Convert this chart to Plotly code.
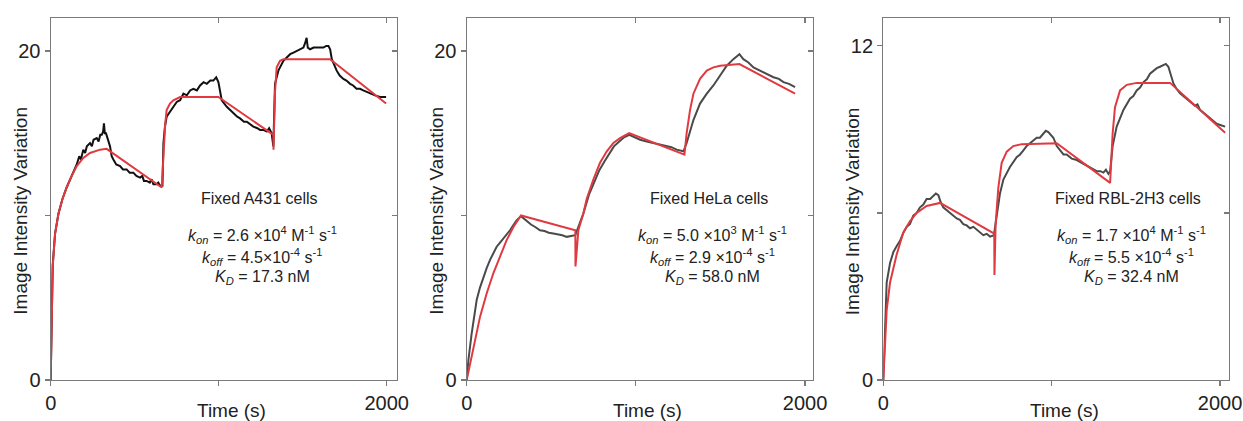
import plotly.graph_objects as go

# ---------------- data ----------------
# Panel 1: Fixed A431 cells
a431_t = [0, 6, 12, 26, 46, 70, 95, 125, 155, 170, 180, 194, 205, 215, 234, 245, 255, 274, 285, 295, 304, 312, 317, 322, 329,
          353, 363, 373, 390, 413, 430, 452, 470, 492, 510, 532, 545, 555, 571, 590, 600, 611, 630, 640, 651, 665,
          671, 680, 690, 710, 730, 750, 770, 790, 810, 830, 849, 870, 889, 910, 929, 950, 968, 985, 998,
          1008, 1018, 1048, 1070, 1087, 1110, 1127, 1150, 1167, 1190, 1206, 1230, 1246, 1265, 1286, 1300, 1315, 1325,
          1335, 1355, 1370, 1385, 1405, 1425, 1445, 1464, 1485, 1504, 1515, 1523, 1530, 1544, 1565, 1583, 1605, 1623, 1640, 1653,
          1663, 1673, 1702, 1720, 1742, 1760, 1782, 1800, 1820, 1841, 1860, 1880, 1901, 1930, 1960, 1996]
a431_v = [0, 4.5, 7.0, 8.9, 10.1, 11.0, 11.7, 12.4, 13.1, 13.6, 13.4, 14.0, 13.8, 14.2, 14.4, 14.2, 14.6, 14.7, 14.5, 14.9, 14.9, 15.1, 15.6, 15.0, 15.0,
          14.2, 13.6, 13.4, 13.1, 13.0, 12.8, 12.8, 12.6, 12.6, 12.4, 12.3, 12.4, 12.1, 12.1, 12.0, 12.2, 11.9, 11.9, 12.0, 11.8, 11.8,
          14.4, 15.4, 16.0, 16.3, 16.6, 16.9, 17.0, 17.4, 17.3, 17.6, 17.7, 17.6, 17.9, 18.1, 18.0, 18.2, 18.2, 18.4, 18.1,
          17.6, 17.0, 16.6, 16.4, 16.2, 16.0, 15.9, 15.7, 15.7, 15.5, 15.4, 15.3, 15.2, 15.2, 15.1, 15.3, 15.0, 14.2,
          18.0, 18.8, 19.1, 19.4, 19.6, 19.8, 19.9, 20.0, 20.1, 20.2, 20.5, 20.8, 20.2, 20.1, 20.2, 20.2, 20.2, 20.2, 20.3, 20.3,
          20.1, 19.5, 18.8, 18.5, 18.3, 18.2, 18.0, 17.9, 17.7, 17.7, 17.6, 17.5, 17.4, 17.3, 17.2, 17.2]
a431_fit_t = [0, 6, 12, 26, 46, 70, 95, 125, 155, 194, 234, 294, 333, 661,
              666, 671, 681, 690, 710, 730, 770, 998, 1325, 1326, 1335, 1345, 1365, 1385, 1663, 1996]
a431_fit_v = [0, 4.0, 6.9, 8.9, 10.1, 11.0, 11.7, 12.4, 13.0, 13.5, 13.8, 14.0, 14.05, 11.7,
              12.8, 14.0, 15.5, 16.4, 16.8, 17.0, 17.2, 17.2, 14.9, 14.0, 17.5, 19.0, 19.4, 19.5, 19.5, 16.8]

# Panel 2: Fixed HeLa cells
hela_t = [0, 10, 29, 45, 59, 78, 98, 118, 138, 157, 177, 197, 217, 236, 256, 275, 295, 321,
          340, 355, 380, 405, 433, 460, 485, 512, 540, 565, 591, 612, 630, 642,
          660, 689, 724, 755, 784, 815, 843, 870, 902, 930, 961,
          985, 1025, 1064, 1103, 1142, 1182, 1210, 1241, 1265, 1281,
          1300, 1320, 1340, 1379, 1419, 1458, 1498, 1537, 1576, 1612,
          1635, 1665, 1695, 1725, 1754, 1785, 1813, 1845, 1872, 1905, 1941]
hela_v = [0, 1.2, 2.8, 4.0, 4.86, 5.6, 6.27, 6.8, 7.3, 7.7, 8.1, 8.35, 8.6, 8.85, 9.1, 9.4, 9.7, 9.96,
          9.8, 9.7, 9.45, 9.3, 9.1, 9.05, 8.95, 8.9, 8.85, 8.8, 8.7, 8.75, 8.75, 8.8,
          9.3, 10.1, 11.3, 12.1, 12.75, 13.3, 13.8, 14.2, 14.5, 14.75, 14.9,
          14.8, 14.6, 14.5, 14.4, 14.3, 14.2, 14.15, 14.0, 13.95, 13.9,
          14.4, 15.1, 15.8, 16.8, 17.4, 17.9, 18.5, 19.1, 19.5, 19.8,
          19.5, 19.3, 19.0, 18.85, 18.7, 18.5, 18.4, 18.3, 18.1, 18.0, 17.8]
hela_fit_t = [0, 39, 79, 118, 158, 197, 236, 276, 321, 642,
              643, 660, 689, 709, 749, 788, 828, 867, 906, 960, 1287,
              1300, 1320, 1340, 1379, 1419, 1458, 1498, 1612, 1941]
hela_fit_v = [0, 2.0, 3.85, 5.26, 6.5, 7.5, 8.5, 9.3, 10.0, 9.1,
              6.9, 9.1, 10.1, 11.0, 12.2, 13.2, 13.9, 14.4, 14.7, 15.0, 13.7,
              15.0, 16.4, 17.4, 18.3, 18.8, 19.0, 19.1, 19.2, 17.4]

# Panel 3: Fixed RBL-2H3 cells
rbl_t = [0, 10, 20, 40, 60, 79, 99, 120, 139, 158, 178, 198, 218, 238, 257, 278, 297, 312, 327,
         340, 356, 376, 396, 416, 436, 455, 475, 495, 515, 535, 554, 574, 594, 614, 634, 657,
         673, 693, 713, 752, 792, 812, 832, 851, 871, 891, 911, 930, 950, 965, 980,
         1010, 1030, 1050, 1070, 1089, 1119, 1149, 1178, 1208, 1238, 1267, 1290, 1307, 1322, 1337, 1347,
         1362, 1386, 1426, 1465, 1485, 1505, 1525, 1545, 1565, 1584, 1605, 1624, 1643, 1663, 1678, 1693,
         1723, 1742, 1762, 1792, 1822, 1851, 1866, 1881, 1911, 1941, 1960, 1980, 2005, 2030]
rbl_v = [0, 2.0, 3.5, 4.2, 4.6, 4.8, 5.0, 5.3, 5.5, 5.6, 5.9, 6.0, 6.2, 6.3, 6.5, 6.5, 6.6, 6.7, 6.64,
         6.4, 6.2, 6.1, 6.0, 5.9, 5.8, 5.75, 5.6, 5.55, 5.45, 5.5, 5.4, 5.3, 5.2, 5.25, 5.15, 5.2,
         5.9, 6.7, 7.2, 7.65, 8.0, 8.1, 8.25, 8.4, 8.5, 8.6, 8.7, 8.7, 8.85, 8.95, 8.9,
         8.7, 8.4, 8.25, 8.1, 8.1, 7.95, 7.9, 7.8, 7.7, 7.6, 7.5, 7.5, 7.45, 7.55, 7.4, 7.5,
         8.4, 9.1, 9.7, 10.1, 10.2, 10.4, 10.5, 10.7, 10.8, 11.0, 11.1, 11.2, 11.25, 11.3, 11.35, 11.25,
         10.65, 10.45, 10.3, 10.15, 10.0, 9.85, 9.9, 9.7, 9.55, 9.4, 9.3, 9.2, 9.15, 9.1]
rbl_fit_t = [0, 10, 20, 40, 79, 119, 158, 198, 257, 337, 659,
             660, 667, 683, 703, 733, 772, 822, 1030, 1347,
             1362, 1376, 1406, 1446, 1505, 1703, 2030]
rbl_fit_v = [0, 1.6, 2.5, 3.5, 4.5, 5.3, 5.7, 6.0, 6.25, 6.36, 5.26,
             3.77, 5.6, 6.9, 7.8, 8.2, 8.4, 8.47, 8.5, 7.08,
             8.85, 9.8, 10.4, 10.6, 10.67, 10.67, 8.88]

panel_labels = ["Fixed A431 cells", "Fixed HeLa cells", "Fixed RBL-2H3 cells"]
kon_text = ["2.6 ×10<sup>4</sup>", "5.0 ×10<sup>3</sup>", "1.7 ×10<sup>4</sup>"]
koff_text = ["4.5×10<sup>-4</sup>", "2.9 ×10<sup>-4</sup>", "5.5 ×10<sup>-4</sup>"]
kd_text = ["17.3", "58.0", "32.4"]

x_ticks = [0, 1000, 2000]
x_ticktext = ["0", "", "2000"]
y_ticks = [[0, 10, 20], [0, 10, 20], [0, 6, 12]]
y_ticktext = [["0", "", "20"], ["0", "", "20"], ["0", "", "12"]]

# ---------------- figure ----------------
W, H = 1243, 421
FONT = "Liberation Sans, Arial, sans-serif"
RED = "#e03a40"
AXIS = "#7a7a7a"
TXT = "#222222"

panels = [
    dict(t=a431_t, v=a431_v, ft=a431_fit_t, fv=a431_fit_v, col="#111111",
         px=(50.7, 397.0), xr=[0, 2061], yr=[0, 22.0], cx=262),
    dict(t=hela_t, v=hela_v, ft=hela_fit_t, fv=hela_fit_v, col="#4a4a4a",
         px=(466.7, 812.7), xr=[0, 2045], yr=[0, 22.0], cx=712),
    dict(t=rbl_t, v=rbl_v, ft=rbl_fit_t, fv=rbl_fit_v, col="#4a4a4a",
         px=(883.3, 1229.0), xr=[0, 2053], yr=[0, 13.0], cx=1131),
]

fig = go.Figure()
layout = dict(
    width=W, height=H, margin=dict(l=0, r=0, t=0, b=0, pad=0),
    paper_bgcolor="white", plot_bgcolor="white", showlegend=False,
    font=dict(family=FONT, color=TXT), hovermode=False,
)
annotations = []
ydom = [(H - 380) / H, (H - 18) / H]

for i, p in enumerate(panels):
    n = i + 1
    xa = "x" if n == 1 else f"x{n}"
    ya = "y" if n == 1 else f"y{n}"
    fig.add_trace(go.Scatter(x=p["t"], y=p["v"], mode="lines", xaxis=xa, yaxis=ya,
                             line=dict(color=p["col"], width=2), hoverinfo="skip"))
    fig.add_trace(go.Scatter(x=p["ft"], y=p["fv"], mode="lines", xaxis=xa, yaxis=ya,
                             line=dict(color=RED, width=2), hoverinfo="skip"))
    xdom = [p["px"][0] / W, p["px"][1] / W]
    common = dict(showgrid=False, zeroline=False, linecolor=AXIS, linewidth=1.2,
                  tickcolor=AXIS, ticklen=5, tickwidth=1.2, automargin=False,
                  tickfont=dict(size=20, family=FONT, color=TXT))
    layout[f"xaxis{'' if n == 1 else n}"] = dict(
        domain=xdom, anchor=ya, range=p["xr"], tickmode="array", tickvals=x_ticks,
        ticktext=x_ticktext, ticks="outside", showline=True, mirror=True, **common)
    layout[f"yaxis{'' if n == 1 else n}"] = dict(
        domain=ydom, anchor=xa, range=p["yr"], tickmode="array", tickvals=y_ticks[i],
        ticktext=y_ticktext[i], ticks="outside", showline=True, mirror=True, **common)
    # mirrored inside ticks on top / right
    tx = f"x{n + 3}"
    ty = f"y{n + 3}"
    fig.add_trace(go.Scatter(x=[], y=[], xaxis=tx, yaxis=ya, hoverinfo="skip"))
    fig.add_trace(go.Scatter(x=[], y=[], xaxis=xa, yaxis=ty, hoverinfo="skip"))
    layout[f"xaxis{n + 3}"] = dict(domain=xdom, anchor=ya, overlaying=xa, side="top",
                                   range=p["xr"], tickmode="array", tickvals=x_ticks,
                                   ticks="inside", ticklen=5, tickwidth=1.2, tickcolor=AXIS,
                                   showticklabels=False, showline=False, showgrid=False,
                                   zeroline=False, automargin=False)
    layout[f"yaxis{n + 3}"] = dict(domain=ydom, anchor=xa, overlaying=ya, side="right",
                                   range=p["yr"], tickmode="array", tickvals=y_ticks[i],
                                   ticks="inside", ticklen=5, tickwidth=1.2, tickcolor=AXIS,
                                   showticklabels=False, showline=False, showgrid=False,
                                   zeroline=False, automargin=False)

    # axis titles
    annotations.append(dict(text="Image Intensity Variation", x=(p["px"][0] - 31) / W, y=1 - 211 / H,
                            xref="paper", yref="paper", showarrow=False, textangle=-90,
                            xanchor="center", yanchor="middle", font=dict(size=19, family=FONT, color=TXT)))
    annotations.append(dict(text="Time (s)", x=(p["px"][0] + 181) / W, y=1 - 410 / H,
                            xref="paper", yref="paper", showarrow=False,
                            xanchor="center", yanchor="middle", font=dict(size=19, family=FONT, color=TXT)))
    # in-plot text
    f = dict(size=16, family=FONT, color=TXT)
    annotations.append(dict(text=panel_labels[i], x=(p["cx"] - 3) / W, y=1 - 198 / H, xref="paper", yref="paper",
                            showarrow=False, xanchor="center", yanchor="middle", font=f))
    annotations.append(dict(text="<i>k</i><sub><i>on</i></sub> = " + kon_text[i] + " M<sup>-1</sup> s<sup>-1</sup>",
                            x=p["cx"] / W, y=1 - 235 / H, xref="paper", yref="paper",
                            showarrow=False, xanchor="center", yanchor="middle", font=f))
    annotations.append(dict(text="<i>k</i><sub><i>off</i></sub> = " + koff_text[i] + " s<sup>-1</sup>",
                            x=p["cx"] / W, y=1 - 257 / H, xref="paper", yref="paper",
                            showarrow=False, xanchor="center", yanchor="middle", font=f))
    annotations.append(dict(text="<i>K</i><sub><i>D</i></sub> = " + kd_text[i] + " nM",
                            x=p["cx"] / W, y=1 - 277 / H, xref="paper", yref="paper",
                            showarrow=False, xanchor="center", yanchor="middle", font=f))

layout["annotations"] = annotations
fig.update_layout(**layout)
fig.write_html("out.html", config={"displayModeBar": False, "staticPlot": True},
               post_script="document.body.style.margin='0';document.body.style.overflow='hidden';")
